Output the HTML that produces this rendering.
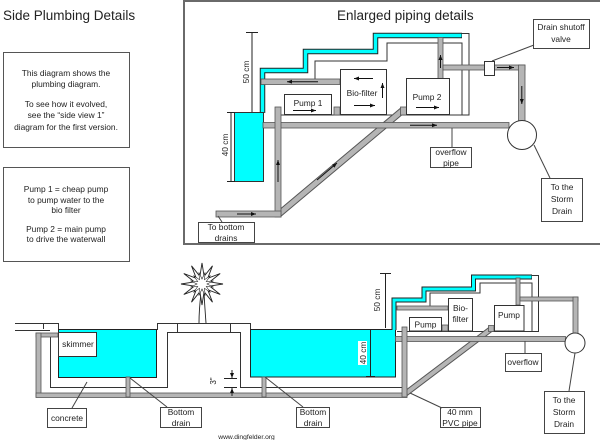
<!DOCTYPE html>
<html><head><meta charset="utf-8"><style>
html,body{margin:0;padding:0;background:#fff;}
svg{display:block;}
text{font-family:"Liberation Sans",Arial,sans-serif;fill:#222;}
</style></head><body>
<svg width="600" height="440" viewBox="0 0 600 440" xmlns="http://www.w3.org/2000/svg">
<defs>
<marker id="a" markerWidth="5" markerHeight="4" refX="5" refY="2" orient="auto" markerUnits="userSpaceOnUse"><path d="M0,0 L5,2 L0,4z" fill="#111"/></marker>
</defs>

<!-- Titles -->
<text x="3" y="20" font-size="13.5">Side Plumbing Details</text>

<!-- Info boxes -->
<rect x="3.5" y="52.5" width="126" height="95" fill="#fff" stroke="#555"/>
<g font-size="8.4" text-anchor="middle">
<text x="66" y="76">This diagram shows the</text>
<text x="66" y="87">plumbing diagram.</text>
<text x="66" y="107">To see how it evolved,</text>
<text x="66" y="118">see the “side view 1”</text>
<text x="66" y="130">diagram for the first version.</text>
</g>
<rect x="3.5" y="167.5" width="126" height="94" fill="#fff" stroke="#555"/>
<g font-size="8.4" text-anchor="middle">
<text x="66" y="192">Pump 1 = cheap pump</text>
<text x="66" y="203">to pump water to the</text>
<text x="66" y="213">bio filter</text>
<text x="66" y="232">Pump 2 = main pump</text>
<text x="66" y="242">to drive the waterwall</text>
</g>

<!-- ===== TOP PANEL ===== -->
<rect x="184" y="1" width="420" height="243" fill="none" stroke="#6a6a6a" stroke-width="2"/>
<text x="337" y="20" font-size="13.5">Enlarged piping details</text>

<!-- thin outline lines -->
<g fill="none" stroke="#333" stroke-width="1">
<polyline points="315,79 315,61 387,61 387,43 462,43 462,115"/>
<polyline points="462,33.5 469,33.5 469,115 450,115"/>
<line x1="278" y1="115" x2="469" y2="115"/>
</g>

<!-- diagonal pipe -->
<line x1="279" y1="214" x2="403" y2="110" stroke="#555" stroke-width="7"/>
<line x1="279" y1="214" x2="403" y2="110" stroke="#b5b5b5" stroke-width="5"/>
<line x1="317" y1="180" x2="337" y2="163" stroke="#111" stroke-width="1" marker-end="url(#a)"/>

<!-- cyan staircase pipe -->
<path d="M262.5,113 V70.5 H305.5 V51.5 H375.5 V35.5 H462" fill="none" stroke="#222" stroke-width="5.5"/>
<path d="M262.5,113 V70.5 H305.5 V51.5 H375.5 V35.5 H461.5" fill="none" stroke="#00ffff" stroke-width="3.5"/>

<!-- tank -->
<rect x="234.5" y="112.5" width="29" height="69" fill="#00ffff" stroke="#333"/>
<!-- 40 cm dim -->
<g stroke="#222" stroke-width="1">
<line x1="231" y1="112" x2="231" y2="182"/>
<line x1="227" y1="112.5" x2="235" y2="112.5"/>
<line x1="227" y1="181.5" x2="235" y2="181.5"/>
<line x1="252" y1="32" x2="252" y2="112"/>
<line x1="246" y1="32.5" x2="258" y2="32.5"/>
</g>
<text transform="translate(228,145) rotate(-90)" font-size="8.4" text-anchor="middle">40 cm</text>
<text transform="translate(249,72) rotate(-90)" font-size="8.4" text-anchor="middle">50 cm</text>

<!-- gray pipes -->
<g fill="#b5b5b5" stroke="#555" stroke-width="0.8">
<rect x="261" y="79" width="79" height="5.5"/>
<rect x="263" y="122.5" width="246" height="5.5"/>
<rect x="275" y="107" width="6" height="110"/>
<rect x="216" y="211" width="65" height="6"/>
<rect x="334" y="107" width="6" height="8"/>
<rect x="400.5" y="107" width="6" height="8"/>
<rect x="438" y="37.5" width="5" height="41"/>
<rect x="443" y="65" width="82" height="5"/>
<rect x="518.5" y="65" width="6.5" height="57"/>
</g>
<!-- pipe arrows -->
<g stroke="#111" stroke-width="1">
<line x1="318" y1="81.7" x2="287" y2="81.7" marker-end="url(#a)"/>
<line x1="410" y1="125.3" x2="437" y2="125.3" marker-end="url(#a)"/>
<line x1="278" y1="182" x2="278" y2="160" marker-end="url(#a)"/>
<line x1="237" y1="214" x2="256" y2="214" marker-end="url(#a)"/>
<line x1="440.5" y1="68" x2="440.5" y2="55" marker-end="url(#a)"/>
<line x1="497" y1="67.5" x2="514" y2="67.5" marker-end="url(#a)"/>
<line x1="521.8" y1="86" x2="521.8" y2="104" marker-end="url(#a)"/>
</g>

<!-- valve -->
<rect x="484.5" y="61.5" width="10" height="14" fill="#fff" stroke="#333"/>
<!-- storm circle -->
<circle cx="522" cy="135" r="14.5" fill="#fff" stroke="#333"/>

<!-- pumps & filter -->
<g fill="#fff" stroke="#333">
<rect x="284.5" y="94.5" width="47" height="20"/>
<rect x="340.5" y="69.5" width="46" height="45"/>
<rect x="406.5" y="78.5" width="43" height="36"/>
</g>
<g font-size="8.4" text-anchor="middle">
<text x="308" y="106">Pump 1</text>
<text x="362" y="96">Bio-filter</text>
<text x="427" y="100">Pump 2</text>
</g>
<g stroke="#111" stroke-width="1">
<line x1="293" y1="110.5" x2="316" y2="110.5" marker-end="url(#a)"/>
<line x1="373" y1="78.5" x2="354" y2="78.5" marker-end="url(#a)"/>
<line x1="354" y1="105.5" x2="375" y2="105.5" marker-end="url(#a)"/>
<line x1="382.5" y1="98" x2="382.5" y2="83" marker-end="url(#a)"/>
<line x1="416" y1="107.5" x2="439" y2="107.5" marker-end="url(#a)"/>
</g>

<!-- labels top -->
<g fill="#fff" stroke="#444">
<rect x="198.5" y="222.5" width="56" height="20"/>
<rect x="430.5" y="147.5" width="41" height="20"/>
<rect x="533.5" y="19.5" width="56" height="29"/>
<rect x="541.5" y="178.5" width="41" height="43"/>
</g>
<g stroke="#444" stroke-width="1">
<line x1="218" y1="216" x2="222" y2="222"/>
<line x1="452" y1="128" x2="452" y2="147"/>
<line x1="534" y1="45" x2="492" y2="61"/>
<line x1="534" y1="145" x2="550" y2="178"/>
</g>
<g font-size="8.4" text-anchor="middle">
<text x="226" y="230">To bottom</text>
<text x="226" y="241">drains</text>
<text x="451" y="155">overflow</text>
<text x="451" y="166">pipe</text>
<text x="561" y="30">Drain shutoff</text>
<text x="561" y="42">valve</text>
<text x="562" y="190">To the</text>
<text x="562" y="202">Storm</text>
<text x="562" y="214">Drain</text>
</g>

<!-- ===== BOTTOM DIAGRAM ===== -->
<!-- ground / concrete lines -->
<g fill="none" stroke="#333" stroke-width="1">
<line x1="15" y1="323.5" x2="58" y2="323.5"/>
<line x1="43.5" y1="323" x2="43.5" y2="329"/>
<line x1="15" y1="330.5" x2="50" y2="330.5"/>
<line x1="58.5" y1="323" x2="58.5" y2="330"/>
<line x1="50.5" y1="337" x2="50.5" y2="387"/>
<polyline points="50,387.5 167.5,387.5 167.5,332.5 240.5,332.5 240.5,387.5 403,387.5"/>
<polyline points="157.5,330 157.5,323.5 250.5,323.5 250.5,330"/>
<line x1="177.5" y1="323" x2="177.5" y2="332"/>
<line x1="230.5" y1="323" x2="230.5" y2="332"/>
<polyline points="430,306 430,293 480,293 480,283 532,283 532,331"/>
<polyline points="532,275.5 538.5,275.5 538.5,331.5 524,331.5"/>
<line x1="397" y1="331.5" x2="538" y2="331.5"/>
</g>

<!-- tree -->
<g fill="none" stroke="#222" stroke-width="0.9">
<path d="M199,323 Q199,310 201,293 M206,323 Q205,310 204,293"/>
<polygon fill="#fff" points="223,284 209.7,286.1 220.2,294.5 207.7,289.7 212.5,302.2 204.1,291.7 202,305 199.9,291.7 191.5,302.2 196.3,289.7 183.8,294.5 194.3,286.1 181,284 194.3,281.9 183.8,273.5 196.3,278.3 191.5,265.8 199.9,276.3 202,263 204.1,276.3 212.5,265.8 207.7,278.3 220.2,273.5 209.7,281.9"/>
<polygon fill="#fff" stroke-width="0.6" points="207,284 213.6,287.1 206.3,286.5 210.5,292.5 204.5,288.3 205.1,295.6 202,289 198.9,295.6 199.5,288.3 193.5,292.5 197.7,286.5 190.4,287.1 197,284 190.4,280.9 197.7,281.5 193.5,275.5 199.5,279.7 198.9,272.4 202,279 205.1,272.4 204.5,279.7 210.5,275.5 206.3,281.5 213.6,280.9"/>
</g>

<!-- bottom diagonal -->
<line x1="405" y1="394" x2="491" y2="329" stroke="#555" stroke-width="6"/>
<line x1="405" y1="394" x2="491" y2="329" stroke="#b5b5b5" stroke-width="4"/>

<!-- pools -->
<rect x="58.5" y="329.5" width="98" height="48" fill="#00ffff" stroke="#222"/>
<rect x="250.5" y="329.5" width="145" height="47.5" fill="#00ffff" stroke="#222"/>

<!-- cyan staircase bottom -->
<path d="M394,330 V300 H424 V289 H473.5 V277 H532" fill="none" stroke="#222" stroke-width="5"/>
<path d="M394,330 V300 H424 V289 H473.5 V277 H531.5" fill="none" stroke="#00ffff" stroke-width="3"/>

<!-- gray pipes bottom -->
<g fill="#b5b5b5" stroke="#555" stroke-width="0.8">
<rect x="36" y="333" width="22" height="4"/>
<rect x="36" y="333" width="5" height="64"/>
<rect x="36" y="393" width="371" height="4.5"/>
<rect x="126" y="377" width="4" height="20"/>
<rect x="262" y="377" width="4" height="20"/>
<rect x="397" y="306" width="51" height="4"/>
<rect x="395.5" y="336.5" width="170" height="5"/>
<rect x="402" y="327" width="5" height="70"/>
<rect x="442" y="325" width="6" height="6"/>
<rect x="488.5" y="325.5" width="5.5" height="6"/>
<rect x="516" y="278" width="4" height="27"/>
<rect x="520" y="297" width="58" height="4"/>
<rect x="573" y="297" width="5" height="38"/>
</g>
<circle cx="575" cy="343" r="10" fill="#fff" stroke="#333"/>

<!-- pumps bottom -->
<g fill="#fff" stroke="#333">
<rect x="58.5" y="332.5" width="38" height="24"/>
<rect x="409.5" y="317.5" width="32" height="13.5"/>
<rect x="448.5" y="298.5" width="24" height="32.5"/>
<rect x="494.5" y="305.5" width="29.5" height="25.5"/>
</g>
<g font-size="8.4" text-anchor="middle">
<text x="78" y="347">skimmer</text>
<text x="425.5" y="327.5">Pump</text>
<text x="460.5" y="311">Bio-</text>
<text x="460.5" y="322">filter</text>
<text x="509" y="318">Pump</text>
</g>

<!-- dimensions bottom -->
<g stroke="#222" stroke-width="1">
<line x1="224" y1="378.5" x2="237" y2="378.5"/>
<line x1="224" y1="387.5" x2="237" y2="387.5"/>
<line x1="232" y1="370" x2="232" y2="378" marker-end="url(#a)"/>
<line x1="232" y1="396" x2="232" y2="388" marker-end="url(#a)"/>
<line x1="370.5" y1="329" x2="370.5" y2="377"/>
<line x1="366" y1="329.5" x2="375" y2="329.5"/>
<line x1="366" y1="376.5" x2="375" y2="376.5"/>
<line x1="385.5" y1="273" x2="385.5" y2="328"/>
<line x1="380" y1="273.5" x2="391" y2="273.5"/>
</g>
<rect x="358" y="341" width="9" height="24" fill="#fff"/>
<text transform="translate(216,381) rotate(-90)" font-size="8" text-anchor="middle">3"</text>
<text transform="translate(366,353) rotate(-90)" font-size="8.4" text-anchor="middle">40 cm</text>
<text transform="translate(380,300) rotate(-90)" font-size="8.4" text-anchor="middle">50 cm</text>

<!-- bottom labels -->
<g fill="#fff" stroke="#444">
<rect x="47.5" y="408.5" width="39" height="19"/>
<rect x="160.5" y="407.5" width="41" height="20"/>
<rect x="296.5" y="407.5" width="33" height="20"/>
<rect x="440.5" y="407.5" width="40" height="20"/>
<rect x="505.5" y="353.5" width="36" height="18"/>
<rect x="544.5" y="391.5" width="40" height="42"/>
</g>
<g stroke="#444" stroke-width="1">
<line x1="72" y1="408" x2="87" y2="382"/>
<line x1="130" y1="378" x2="167" y2="407"/>
<line x1="265" y1="377" x2="303" y2="407"/>
<line x1="410" y1="393" x2="442" y2="408"/>
<line x1="525" y1="341" x2="525" y2="353"/>
<line x1="575" y1="353" x2="569" y2="391"/>
</g>
<g font-size="8.4" text-anchor="middle">
<text x="67" y="421">concrete</text>
<text x="181" y="415">Bottom</text>
<text x="181" y="426">drain</text>
<text x="313" y="415">Bottom</text>
<text x="313" y="426">drain</text>
<text x="460" y="415">40 mm</text>
<text x="460" y="426">PVC pipe</text>
<text x="523" y="365">overflow</text>
<text x="564" y="403">To the</text>
<text x="564" y="415">Storm</text>
<text x="564" y="427">Drain</text>
</g>
<text x="246.5" y="439" font-size="6.7" text-anchor="middle">www.dingfelder.org</text>
</svg>
</body></html>
